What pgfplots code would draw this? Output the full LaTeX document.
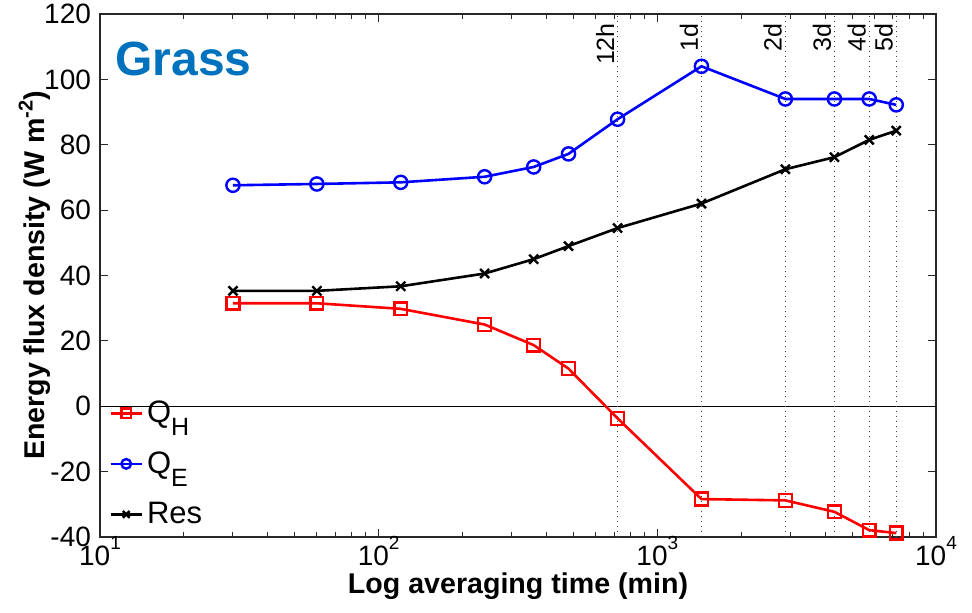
\documentclass[border=0pt]{standalone}
\usepackage{fontspec}
\setmainfont{Liberation Sans}
\usepackage{pgfplots}
\pgfplotsset{compat=1.18}
\definecolor{grassblue}{RGB}{0,114,189}
\definecolor{framegray}{RGB}{40,40,40}
\newcommand{\supx}[1]{\raisebox{8pt}{\fontsize{9.5}{10}\selectfont #1}}
\newcommand{\subl}[1]{\raisebox{-6.5pt}{\fontsize{12.5}{13}\selectfont #1}}
\begin{document}
\begin{tikzpicture}
\begin{axis}[
  scale only axis,
  width=418pt, height=261.5pt,
  xmode=log,
  xmin=10, xmax=10000,
  ymin=-40, ymax=120,
  ytick={-40,-20,0,20,40,60,80,100,120},
  xtick={10,100,1000,10000},
  xticklabels={10\supx{1},10\supx{2},10\supx{3},10\supx{4}},
  /pgf/number format/assume math mode=true,
  tick align=inside,
  major tick length=4pt,
  minor tick length=2.5pt,
  axis line style={framegray, line width=0.6pt},
  every tick/.style={framegray, line width=0.5pt},
  ticklabel style={font=\fontsize{14}{16}\selectfont},
  xticklabel style={anchor=base, yshift=-14.5pt, inner sep=0pt},
  yticklabel style={xshift=-1pt},
  xlabel={\bfseries Log averaging time (min)},
  ylabel={\bfseries Energy flux density (W m\raisebox{6pt}{\fontsize{10}{10}\selectfont -2})},
  label style={font=\fontsize{14.3}{17}\selectfont},
  xlabel style={at={(axis description cs:0.5,-0.108)}, anchor=base, inner sep=0pt},
  ylabel style={at={(axis description cs:-0.078,0.5)}, anchor=center},
  legend style={draw=none, fill=none, at={(axis description cs:0.006,0.004)}, anchor=south west,
    font=\fontsize{15.5}{18}\selectfont, row sep=9pt, inner sep=2pt},
  legend cell align=left,
  legend image code/.code={\draw[#1] (0pt,0pt) -- (15.5pt,0pt); \draw[#1, only marks, mark size=2.4pt] plot coordinates {(7.75pt,0pt)};},
  clip=false,
]
% zero line
\addplot[black, line width=0.5pt, forget plot] coordinates {(10,0) (10000,0)};
% vertical dotted lines
\foreach \xv in {720,1440,2880,4320,5760,7200} {
  \edef\tmp{\noexpand\addplot[black!75, dotted, line width=0.5pt, forget plot] coordinates {(\xv,-40) (\xv,120)};}
  \tmp
}
\addplot[red, line width=1.3pt, mark=square, mark size=3.2pt, mark options={line width=1.2pt, solid}] coordinates {
(30,31.5) (60,31.5) (120,29.8) (240,25) (360,18.7) (480,11.5) (720,-3.7) (1440,-28.4) (2880,-28.8) (4320,-32.3) (5760,-37.9) (7200,-38.8)};
\addlegendentry{Q\subl{H}}
\addplot[blue, line width=1.3pt, mark=o, mark size=3.3pt, mark options={line width=1.2pt, solid}] coordinates {
(30,67.6) (60,68) (120,68.5) (240,70.2) (360,73.2) (480,77.2) (720,87.8) (1440,104) (2880,94) (4320,94) (5760,94) (7200,92.2)};
\addlegendentry{Q\subl{E}}
\addplot[black, line width=1.3pt, mark=x, mark size=3.2pt, mark options={line width=1.2pt, solid}] coordinates {
(30,35.3) (60,35.3) (120,36.7) (240,40.6) (360,45) (480,49) (720,54.5) (1440,62) (2880,72.5) (4320,76.2) (5760,81.5) (7200,84.3)};
\addlegendentry{Res}
\node[anchor=base west, text=grassblue, font=\fontsize{24}{28}\selectfont\bfseries] at (axis description cs:0.01,0.8815) {Grass};
\foreach \xv/\lab in {720/12h,1440/1d,2880/2d,4320/3d,5760/4d,7200/5d} {
  \edef\tmp{\noexpand\node[rotate=90, anchor=south east, inner sep=1.5pt, font=\noexpand\fontsize{12.5}{15}\noexpand\selectfont] at (axis cs:\xv,118.2) {\lab};}
  \tmp
}
\coordinate (ll) at (rel axis cs:0,0);
\end{axis}
\pgfresetboundingbox
\path (ll) ++(-50pt,-38pt) rectangle ++(486pt,306.5pt);
\end{tikzpicture}
\end{document}
